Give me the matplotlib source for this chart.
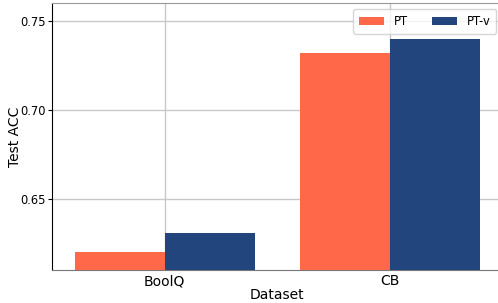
import matplotlib
matplotlib.use("Agg")
import matplotlib.pyplot as plt
import numpy as np

datasets = ["BoolQ", "CB"]
methods = ["PT", "PT-v"]
pt_vals = [0.620, 0.732]
ptv_vals = [0.631, 0.740]
colors = ["#FF6849", "#21457C"]

W, H = 498, 303
fig = plt.figure(figsize=(W / 100, H / 100), dpi=100)
ax = fig.add_axes([52 / W, 32.8 / H, 450 / W, 267 / H])

x = np.arange(len(datasets))
w = 0.4
ax.bar(x - w / 2, pt_vals, width=w, color=colors[0], label=methods[0], zorder=3)
ax.bar(x + w / 2, ptv_vals, width=w, color=colors[1], label=methods[1], zorder=3)

ax.set_xlim(-0.5, 1.5)
ax.set_ylim(0.61, 0.76)
ax.set_yticks([0.65, 0.70, 0.75])
ax.set_yticklabels(["0.65", "0.70", "0.75"])
ax.set_xticks(x)
ax.set_xticklabels(datasets)
ax.tick_params(axis="x", length=0, labelsize=10, pad=3)
ax.tick_params(axis="y", length=3, labelsize=8.3, pad=1.5)
ax.grid(True, color="#c8c8c8", linewidth=1, zorder=0)
ax.set_axisbelow(True)
ax.set_xlabel("Dataset", fontsize=10, labelpad=0)
ax.set_ylabel("Test ACC", fontsize=10, labelpad=-1.5)

ax.spines["left"].set_color("black")
ax.spines["bottom"].set_color("#777777")
ax.spines["top"].set_color("#999999")
ax.spines["right"].set_visible(False)
for s in ax.spines.values():
    s.set_zorder(1)

leg = ax.legend(loc="upper right", ncol=2, fontsize=8.3, frameon=True,
                bbox_transform=fig.transFigure,
                bbox_to_anchor=(496 / W, 1 - 9 / H), handlelength=2.2,
                columnspacing=2.1, borderpad=0.5, handletextpad=0.8,
                borderaxespad=0)

fig.savefig("out.png", dpi=100)
